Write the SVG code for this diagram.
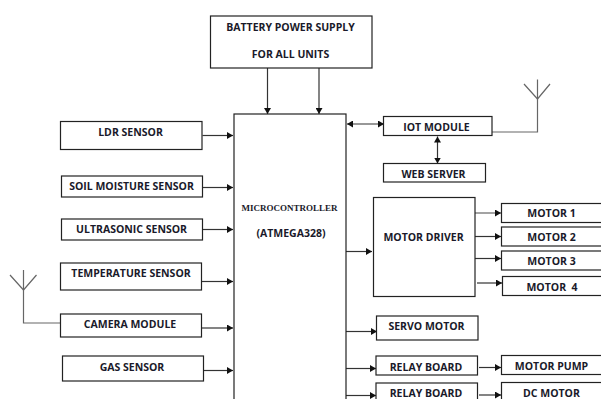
<svg xmlns="http://www.w3.org/2000/svg" width="601" height="399" viewBox="0 0 601 399">
<style>
.b{fill:#fff;stroke:#222;stroke-width:1.2}
.c{fill:none;stroke:#333;stroke-width:1.2}
.g{fill:none;stroke:#666;stroke-width:1.2}
text{font-family:"Open Sans","Liberation Sans",sans-serif;font-weight:700;font-size:10.500px;fill:#1a1a2a;text-anchor:middle}
</style>
<defs>
<marker id="a" markerUnits="userSpaceOnUse" markerWidth="7" markerHeight="7" refX="6" refY="3.500" orient="auto-start-reverse"><path d="M0 0L6 3.500L0 7Z" fill="#111"/></marker>
</defs>
<rect width="601" height="399" fill="#fff"/>
<g id="connectors">
<path class="c" d="M267.500 68V114" marker-end="url(#a)"/>
<path class="c" d="M319 68V114" marker-end="url(#a)"/>
<path class="c" d="M202.500 135.500H233" marker-end="url(#a)"/>
<path class="c" d="M203 187.500H233" marker-end="url(#a)"/>
<path class="c" d="M203 229.500H233" marker-end="url(#a)"/>
<path class="c" d="M202 281.500H233" marker-end="url(#a)"/>
<path class="c" d="M202 328H233" marker-end="url(#a)"/>
<path class="c" d="M204 370.500H233" marker-end="url(#a)"/>
<path class="c" d="M347 124H384" marker-start="url(#a)" marker-end="url(#a)"/>
<path class="c" d="M437.500 136.500V163.500" marker-start="url(#a)" marker-end="url(#a)"/>
<path class="g" d="M492 132H537.500V79.500"/>
<path class="g" d="M524 84L537.500 99L550 84"/>
<path class="g" d="M61 323H23.500V270"/>
<path class="g" d="M10 275L23.500 290L36.500 275"/>
<path class="c" d="M346 251.500H372" marker-end="url(#a)"/>
<path class="c" d="M346 331.500H377" marker-end="url(#a)"/>
<path class="c" d="M346 368.500H376" marker-end="url(#a)"/>
<path class="c" d="M346 395.500H376" marker-end="url(#a)"/>
<path class="g" d="M475 213H501" marker-end="url(#a)"/>
<path class="c" d="M475 236.500H501" marker-end="url(#a)"/>
<path class="c" d="M475 258.500H501" marker-end="url(#a)"/>
<path class="c" d="M477 283H502" marker-end="url(#a)"/>
<path class="c" d="M479 367.500H501" marker-end="url(#a)"/>
<path class="c" d="M479 395H501" marker-end="url(#a)"/>
</g>
<g id="battery"><rect class="b" x="210.500" y="16" width="161.500" height="52"/><text x="290.500" y="31">BATTERY POWER SUPPLY</text><text x="290.500" y="58">FOR ALL UNITS</text></g>
<g id="microcontroller"><rect class="b" x="234" y="114" width="112" height="300"/><text x="289.500" y="211" style="font-family:'Liberation Serif',serif;font-size:9px">MICROCONTROLLER</text><text x="291" y="237">(ATMEGA328)</text></g>
<g id="ldr"><rect class="b" x="60.500" y="121.500" width="141.500" height="28"/><text x="130.500" y="136">LDR SENSOR</text></g>
<g id="soil"><rect class="b" x="61.500" y="176" width="141" height="21"/><text x="131.500" y="190">SOIL MOISTURE SENSOR</text></g>
<g id="ultrasonic"><rect class="b" x="61.500" y="219" width="141" height="21"/><text x="131.500" y="233">ULTRASONIC SENSOR</text></g>
<g id="temperature"><rect class="b" x="60.500" y="263" width="141" height="27"/><text x="131" y="277">TEMPERATURE SENSOR</text></g>
<g id="camera"><rect class="b" x="60.500" y="314" width="141" height="23"/><text x="130" y="328">CAMERA MODULE</text></g>
<g id="gas"><rect class="b" x="62.500" y="356" width="141" height="25"/><text x="132" y="371">GAS SENSOR</text></g>
<g id="iot"><rect class="b" x="383.500" y="116.500" width="108.500" height="19"/><text x="436.500" y="131">IOT MODULE</text></g>
<g id="web"><rect class="b" x="383.500" y="163.500" width="102" height="18.500"/><text x="433.500" y="178">WEB SERVER</text></g>
<g id="driver"><rect class="b" x="373.500" y="197.500" width="101.500" height="99"/><text x="423.500" y="241">MOTOR DRIVER</text></g>
<g id="motor1"><rect class="b" x="501.500" y="203.500" width="105" height="19"/><text x="551.500" y="217">MOTOR 1</text></g>
<g id="motor2"><rect class="b" x="501.500" y="227" width="105" height="19"/><text x="551.500" y="241">MOTOR 2</text></g>
<g id="motor3"><rect class="b" x="501.500" y="251" width="105" height="19"/><text x="551.500" y="265">MOTOR 3</text></g>
<g id="motor4"><rect class="b" x="502.500" y="276.500" width="105" height="19"/><text x="552" y="291" xml:space="preserve">MOTOR  4</text></g>
<g id="servo"><rect class="b" x="376.500" y="316" width="101.500" height="24"/><text x="426.500" y="330">SERVO MOTOR</text></g>
<g id="relay1"><rect class="b" x="376" y="356" width="101.500" height="19"/><text x="426" y="371">RELAY BOARD</text></g>
<g id="relay2"><rect class="b" x="376" y="383" width="101.500" height="30"/><text x="426" y="397">RELAY BOARD</text></g>
<g id="pump"><rect class="b" x="501.500" y="355.500" width="105" height="19"/><text x="551.500" y="370">MOTOR PUMP</text></g>
<g id="dc"><rect class="b" x="501.500" y="382.500" width="105" height="30"/><text x="551.500" y="397">DC MOTOR</text></g>
</svg>
